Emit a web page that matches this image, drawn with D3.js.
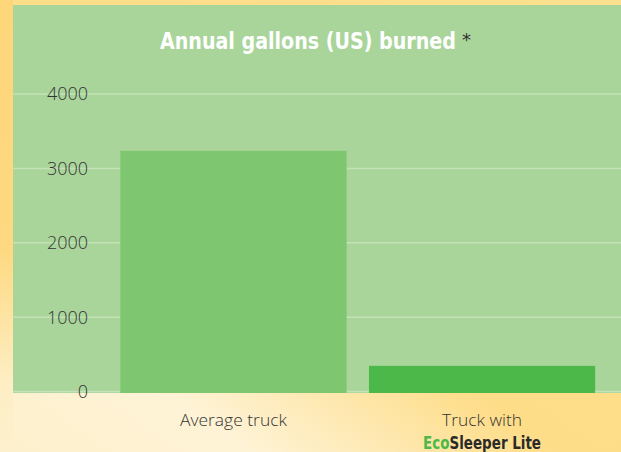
<!DOCTYPE html>
<html><head><meta charset="utf-8">
<script src="https://cdn.jsdelivr.net/npm/d3@7"></script>
<style>html,body{margin:0;padding:0;overflow:hidden;}svg{display:block;}</style>
</head><body>
<svg id="chart" width="621" height="452"></svg>
<script>
const categories = ["Average truck", "Truck with EcoSleeper Lite"];
const values = [3235, 345];
const barColors = ["#7fc671", "#4cb84a"];
const yTicks = [0, 1000, 2000, 3000, 4000];
const title = "Annual gallons (US) burned";

const W = 621, H = 452;
const svg = d3.select("#chart");
const defs = svg.append("defs");
const bg = defs.append("linearGradient").attr("id","bg").attr("x1","0").attr("y1","1").attr("x2","1").attr("y2","0");
bg.append("stop").attr("offset","0").attr("stop-color","#fdf0cc");
bg.append("stop").attr("offset","0.2").attr("stop-color","#fef3d6");
bg.append("stop").attr("offset","0.45").attr("stop-color","#fedd88");
bg.append("stop").attr("offset","1").attr("stop-color","#fee08e");
svg.append("rect").attr("width",W).attr("height",H).attr("fill","url(#bg)");
const strip = defs.append("linearGradient").attr("id","strip").attr("x1","0").attr("y1","0").attr("x2","0").attr("y2","1");
strip.append("stop").attr("offset","0").attr("stop-color","#fed67a");
strip.append("stop").attr("offset","0.55").attr("stop-color","#fed981");
strip.append("stop").attr("offset","0.85").attr("stop-color","#fdeec4");
strip.append("stop").attr("offset","1").attr("stop-color","#fdf0cc");
svg.append("rect").attr("x",0).attr("y",0).attr("width",13).attr("height",H).attr("fill","url(#strip)");

const panel = {x:13, y:5, w:W-13, h:388};
svg.append("rect").attr("x",panel.x).attr("y",panel.y).attr("width",panel.w).attr("height",panel.h).attr("fill","#a9d59b");

const y = d3.scaleLinear().domain([0,4000]).range([391.5, 94]);
const x = d3.scaleBand().domain(categories).range([95.5, 620]).paddingInner(0.09).paddingOuter(0.1);

svg.append("g").selectAll("line").data(yTicks).join("line")
  .attr("x1",panel.x).attr("x2",W).attr("y1",d=>y(d)).attr("y2",d=>y(d))
  .attr("stroke","#c3e2b6").attr("stroke-width",1.5);

svg.append("g").selectAll("text").data(yTicks).join("text")
  .attr("x",88).attr("y",d=>y(d)).attr("dy","0.36em").attr("text-anchor","end")
  .attr("font-family","Open Sans, Liberation Sans, sans-serif").attr("font-weight",300).attr("font-size",18)
  .attr("fill","#333333").text(d=>d);

svg.append("g").selectAll("rect").data(values).join("rect")
  .attr("x",(d,i)=>x(categories[i])).attr("width",x.bandwidth())
  .attr("y",d=>y(d)).attr("height",d=>393-y(d))
  .attr("fill",(d,i)=>barColors[i]);

// title, horizontally condensed via transform
const tg = svg.append("g");
const tt = tg.append("text").attr("x",0).attr("y",0)
  .attr("font-family","DejaVu Sans Condensed, DejaVu Sans, sans-serif")
  .attr("font-weight","bold").attr("font-size",23).attr("fill","#ffffff").text(title);
const tl = tt.node().getComputedTextLength();
tg.attr("transform",`translate(160,49) scale(${296/tl},1)`);
svg.append("text").attr("x",462).attr("y",46)
  .attr("font-family","DejaVu Sans, sans-serif").attr("font-size",18).attr("fill","#333333").text("*");

const lab = svg.append("g").attr("font-family","Open Sans, Liberation Sans, sans-serif").attr("font-weight",300).attr("font-size",17).attr("fill","#333333").attr("text-anchor","middle");
lab.append("text").attr("x",x(categories[0])+x.bandwidth()/2).attr("y",426)
  .attr("textLength",107).attr("lengthAdjust","spacingAndGlyphs").text("Average truck");
lab.append("text").attr("x",x(categories[1])+x.bandwidth()/2).attr("y",426)
  .attr("textLength",80).attr("lengthAdjust","spacingAndGlyphs").text("Truck with");
const eg = svg.append("g");
const eco = eg.append("text").attr("x",0).attr("y",0)
  .attr("font-family","DejaVu Sans Condensed, DejaVu Sans, sans-serif").attr("font-weight","bold").attr("font-size",17);
eco.append("tspan").attr("fill","#4cb84a").text("Eco");
eco.append("tspan").attr("fill","#2a2a2a").text("Sleeper Lite");
const el = eco.node().getComputedTextLength();
const ex = x(categories[1])+x.bandwidth()/2 - 59;
eg.attr("transform",`translate(${ex},449) scale(${118/el},1)`);
</script>
</body></html>
